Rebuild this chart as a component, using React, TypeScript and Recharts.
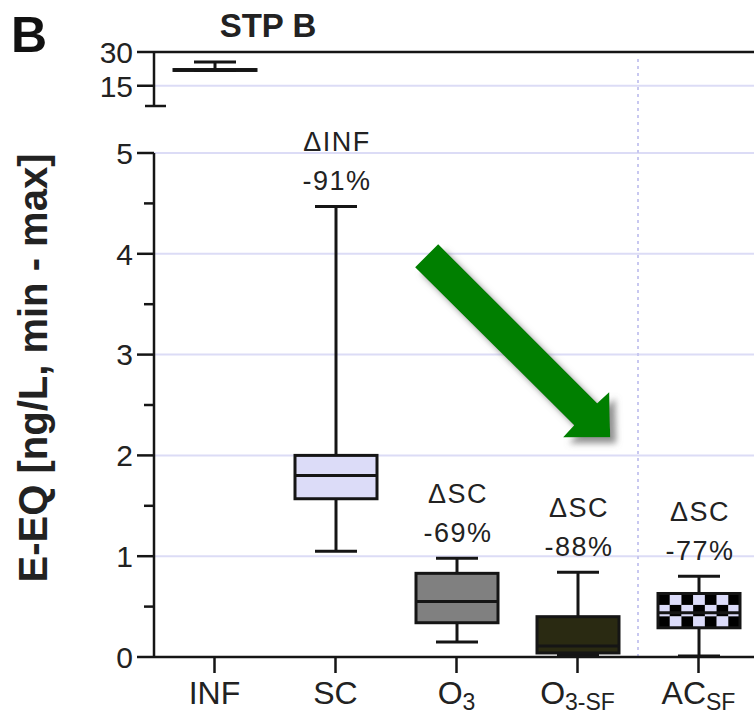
import React from "react";
import {
  ComposedChart, Bar, XAxis, YAxis, CartesianGrid, ReferenceLine, ReferenceDot,
} from "recharts";

// sampling points along the treatment train
const categories = ["INF", "SC", "O3", "O3-SF", "ACSF"];
const tickMain = ["INF", "SC", "O", "O", "AC"];
const tickSub = ["", "", "3", "3-SF", "SF"];

// E-EQ in ng/L (min, quartiles, max)
const mins = [21.8, 1.05, 0.15, 0.02, 0.01];
const q1s = [21.8, 1.57, 0.34, 0.04, 0.29];
const medians = [22.0, 1.8, 0.55, 0.11, 0.44];
const q3s = [22.2, 2.0, 0.83, 0.4, 0.63];
const maxs = [25.6, 4.47, 0.98, 0.84, 0.8];

// removal relative to the previous step
const deltaRef = ["", "\u0394INF", "\u0394SC", "\u0394SC", "\u0394SC"];
const deltaPct = ["", "-91%", "-69%", "-88%", "-77%"];

const fills = ["#ffffff", "#dcdcf8", "#808080", "#2a2a12", "checker"];

const topTicks = [6, 15, 30];
const bottomTicks = [0, 0.5, 1, 1.5, 2, 2.5, 3, 3.5, 4, 4.5, 5];
const gridValues = [1, 2, 3, 4, 5];

const FONT = "'Liberation Sans', Arial, Helvetica, sans-serif";
const INK = "#151515";
const LAVENDER = "#dcdcf6";
const CHART_W = 770;
const MARGIN_L = 94;
const MARGIN_R = 11;
const Y_AXIS_W = 60;

const rows = categories.map((name, i) => ({
  name,
  pos: i + 0.5,
  range: [mins[i], maxs[i]],
  min: mins[i],
  q1: q1s[i],
  median: medians[i],
  q3: q3s[i],
  max: maxs[i],
  fill: fills[i],
  deltaRef: deltaRef[i],
  deltaPct: deltaPct[i],
}));

const topRows = rows.map((r, i) => (i === 0 ? r : { ...r, range: null }));
const bottomRows = rows.map((r, i) => (i === 0 ? { ...r, range: null } : r));

function Checker({ x, y, w, h }: { x: number; y: number; w: number; h: number }) {
  const cols = 7;
  const rowsN = 3;
  const cw = w / cols;
  const ch = h / rowsN;
  const cells = [];
  for (let r = 0; r < rowsN; r++) {
    for (let c = 0; c < cols; c++) {
      cells.push(
        <rect key={`${r}-${c}`} x={x + c * cw} y={y + r * ch} width={cw + 0.3} height={ch + 0.3}
          fill={(r + c) % 2 === 0 ? "#000" : "#dcdcfa"} />
      );
    }
  }
  return <g>{cells}</g>;
}

function BoxShape(props: any) {
  const { x, y, width, height, payload } = props;
  if (!payload || !payload.range) return null;
  const lo = payload.min;
  const hi = payload.max;
  const px = (v: number) => y + (height * (hi - v)) / (hi - lo);
  const cx = x + width / 2;
  const cap = 42;
  const top = px(payload.q3);
  const bot = px(payload.q1);
  const med = px(payload.median);
  const sw = 3;
  return (
    <g>
      <line x1={cx} x2={cx} y1={px(hi)} y2={top} stroke={INK} strokeWidth={sw} />
      <line x1={cx} x2={cx} y1={bot} y2={px(lo)} stroke={INK} strokeWidth={sw} />
      <line x1={cx - cap / 2} x2={cx + cap / 2} y1={px(hi)} y2={px(hi)} stroke={INK} strokeWidth={sw} />
      <line x1={cx - cap / 2} x2={cx + cap / 2} y1={px(lo)} y2={px(lo)} stroke={INK} strokeWidth={sw} />
      {payload.fill === "checker" ? (
        <Checker x={x} y={top} w={width} h={bot - top} />
      ) : (
        <rect x={x} y={top} width={width} height={Math.max(bot - top, 0.5)} fill={payload.fill} />
      )}
      <rect x={x} y={top} width={width} height={Math.max(bot - top, 0.5)} fill="none" stroke={INK} strokeWidth={sw} />
      <line x1={x} x2={x + width} y1={med} y2={med} stroke={INK} strokeWidth={sw} />
      {payload.deltaRef && (
        <g fontFamily={FONT} fontSize={27} fill="#222" textAnchor="middle" letterSpacing={1.5}>
          <text x={cx + 1} y={px(hi) - 55}>{payload.deltaRef}</text>
          <text x={cx + 1} y={px(hi) - 16}>{payload.deltaPct}</text>
        </g>
      )}
    </g>
  );
}

function BottomYTick(props: any) {
  const { x, y, payload } = props;
  const v = payload.value;
  const major = Number.isInteger(v);
  const len = major ? 17 : 10;
  return (
    <g>
      <line x1={x - len} x2={x} y1={y} y2={y} stroke={INK} strokeWidth={2.5} />
      {major && (
        <text x={x - 21} y={y} dy="0.36em" textAnchor="end" fontSize={30} fontFamily={FONT} fill="#222">{v}</text>
      )}
    </g>
  );
}

function TopYTick(props: any) {
  const { x, y, payload } = props;
  const v = payload.value;
  if (v === topTicks[0]) {
    return <line x1={x - 9} x2={x + 12} y1={y} y2={y} stroke={INK} strokeWidth={2.5} />;
  }
  return (
    <g>
      <line x1={x - 17} x2={x} y1={y} y2={y} stroke={INK} strokeWidth={2.5} />
      <text x={x - 21} y={y} dy="0.36em" textAnchor="end" fontSize={30} fontFamily={FONT} fill="#222">{v}</text>
    </g>
  );
}

function XTick(props: any) {
  const { x, y, index } = props;
  return (
    <g>
      <line x1={x} x2={x} y1={y} y2={y + 16} stroke={INK} strokeWidth={2.5} />
      <text x={x} y={y + 47} textAnchor="middle" fontSize={32} fontFamily={FONT} fill="#222">
        {tickMain[index]}
        {tickSub[index] && <tspan fontSize={23} dy={6}>{tickSub[index]}</tspan>}
      </text>
    </g>
  );
}

function ArrowShape(props: any) {
  const { cx, cy } = props;
  const pts = [
    [-172, -193], [-13, -34], [-1, -45], [0, 0], [-47, 0], [-36, -12], [-195, -170],
  ].map(([dx, dy]) => `${cx + dx},${cy + dy}`).join(" ");
  return (
    <g>
      <defs>
        <filter id="arrowShadow" x="-20%" y="-20%" width="150%" height="150%">
          <feDropShadow dx={6} dy={6} stdDeviation={3} floodColor="#777" floodOpacity={0.8} />
        </filter>
      </defs>
      <polygon points={pts} fill="#007f00" filter="url(#arrowShadow)" />
    </g>
  );
}

export default function App() {
  return (
    <div style={{ position: "absolute", left: 0, top: 0, width: 754, height: 716, overflow: "hidden", background: "#fff" }}>
      {/* lower panel, 0-5 ng/L */}
      <div style={{ position: "absolute", left: 0, top: 0 }}>
        <ComposedChart width={CHART_W} height={716} data={bottomRows}
          margin={{ top: 153, right: MARGIN_R, bottom: 0, left: MARGIN_L }}>
          <CartesianGrid xAxisId="cat" vertical={false} horizontalValues={gridValues} stroke={LAVENDER} strokeWidth={2} />
          <XAxis xAxisId="cat" dataKey="name" height={59} interval={0} tickSize={0} tickMargin={0}
            axisLine={{ stroke: INK, strokeWidth: 2.5 }} tickLine={false} tick={<XTick />} />
          <XAxis xAxisId="num" dataKey="pos" type="number" domain={[0, 5]} hide allowDataOverflow />
          <YAxis width={Y_AXIS_W} domain={[0, 5]} ticks={bottomTicks} interval={0} tickSize={0} tickMargin={0}
            axisLine={{ stroke: INK, strokeWidth: 2.5 }} tickLine={false} tick={<BottomYTick />} />
          <ReferenceLine xAxisId="num" segment={[{ x: 4, y: 0 }, { x: 4, y: 5.97 }]} ifOverflow="visible"
            stroke="#c8c8f0" strokeWidth={2} strokeDasharray="3 4" />
          <Bar xAxisId="cat" dataKey="range" barSize={82} shape={<BoxShape />} isAnimationActive={false} />
          <ReferenceDot xAxisId="num" x={3.77} y={2.18} r={0} ifOverflow="visible" shape={<ArrowShape />} />
        </ComposedChart>
      </div>
      {/* upper panel, broken axis above 6 ng/L */}
      <div style={{ position: "absolute", left: 0, top: 0 }}>
        <ComposedChart width={CHART_W} height={120} data={topRows}
          margin={{ top: 52, right: MARGIN_R, bottom: 14, left: MARGIN_L }}>
          <CartesianGrid xAxisId="cat" vertical={false} horizontalValues={[15]} stroke={LAVENDER} strokeWidth={2} />
          <XAxis xAxisId="cat" dataKey="name" hide />
          <YAxis width={Y_AXIS_W} domain={[6, 30]} ticks={topTicks} interval={0} tickSize={0} tickMargin={0}
            axisLine={{ stroke: INK, strokeWidth: 2.5 }} tickLine={false} tick={<TopYTick />} />
          <ReferenceLine xAxisId="cat" y={30} stroke={INK} strokeWidth={2.5} />
          <Bar xAxisId="cat" dataKey="range" barSize={82} shape={<BoxShape />} isAnimationActive={false} />
        </ComposedChart>
      </div>
      <svg width={754} height={716} style={{ position: "absolute", left: 0, top: 0, pointerEvents: "none" }}>
        <text x={11} y={52} fontFamily={FONT} fontWeight="bold" fontSize={50} fill="#111">B</text>
        <text x={268} y={37} fontFamily={FONT} fontWeight="bold" fontSize={33} fill="#222" textAnchor="middle">STP B</text>
        <text transform="translate(47,368) rotate(-90)" textAnchor="middle" fontFamily={FONT} fontWeight="bold"
          fontSize={40} fill="#222">E-EQ [ng/L, min - max]</text>
      </svg>
    </div>
  );
}
